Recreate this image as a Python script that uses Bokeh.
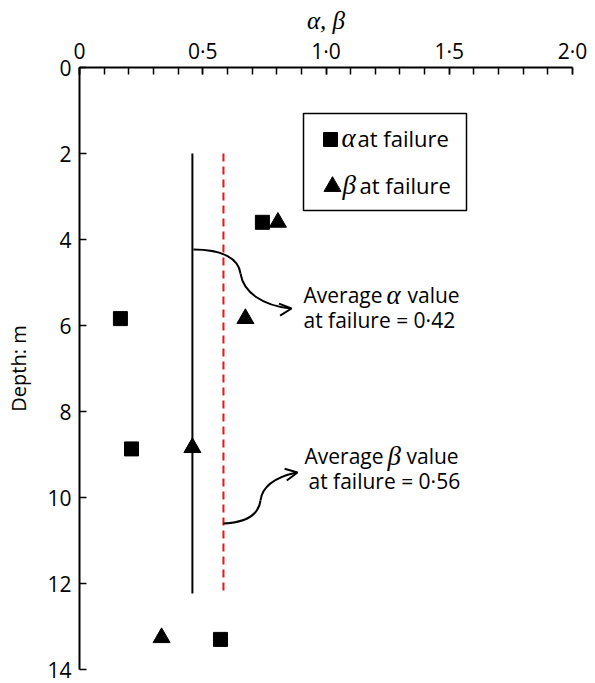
import math
from bokeh.plotting import figure
from bokeh.models import (Range1d, LinearAxis, FixedTicker, CustomJSTickFormatter,
                          Label, Arrow, OpenHead, BoxAnnotation)
from bokeh.embed import file_html
from bokeh.resources import INLINE

# ---------------- data ----------------
alpha_depth = [3.60, 5.84, 8.87, 13.30]
alpha_value = [0.742, 0.166, 0.211, 0.572]
beta_depth = [3.60, 5.84, 8.84, 13.26]
beta_value = [0.805, 0.673, 0.458, 0.333]

alpha_avg_line_x = [0.458, 0.458]
beta_avg_line_x = [0.584, 0.584]
avg_line_depth = [2.0, 12.23]

x_ticks = [0, 0.5, 1.0, 1.5, 2.0]
x_tick_labels = ["0", "0·5", "1·0", "1·5", "2·0"]
y_ticks = [0, 2, 4, 6, 8, 10, 12, 14]

# ---------------- geometry helpers (pixel -> data) for annotations ----------------
L, R, T, B = 79, 572, 67, 669
W, H = 595, 683
def dx(px):
    return (px - L) / (R - L) * 2.0
def dy(py):
    return (py - T) / (B - T) * 14.0

FONT = "Open Sans"
SERIF = "Liberation Serif"
TXT = "#000000"

p = figure(frame_width=R - L, frame_height=B - T, output_backend="svg",
           toolbar_location=None,
           x_range=Range1d(0, 2.0), y_range=Range1d(14, 0),
           x_axis_location=None, y_axis_location=None,
           min_border_left=L, min_border_right=W - R,
           min_border_top=T, min_border_bottom=H - B)
p.outline_line_color = None
p.xgrid.grid_line_color = None
p.ygrid.grid_line_color = None
p.background_fill_color = "white"
p.border_fill_color = "white"

# top axis
xa = LinearAxis(ticker=FixedTicker(ticks=x_ticks,
                                    minor_ticks=[i / 10 for i in range(21)]))
xa.formatter = CustomJSTickFormatter(args=dict(t=x_ticks, l=x_tick_labels), code="""
    for (let i = 0; i < t.length; i++) { if (Math.abs(t[i] - tick) < 1e-9) return l[i]; }
    return '';
""")
xa.major_tick_in = 7
xa.major_tick_out = 0
xa.minor_tick_in = 7
xa.minor_tick_out = 0
xa.axis_line_width = 2
xa.major_tick_line_width = 1.5
xa.minor_tick_line_width = 1.5
xa.major_label_text_font = FONT
xa.major_label_text_font_size = "21px"
xa.major_label_text_color = TXT
xa.major_label_standoff = 3
xa.axis_label = "α, β"
xa.axis_label_text_font = SERIF
xa.axis_label_text_font_style = "italic"
xa.axis_label_text_font_size = "25px"
xa.axis_label_text_color = TXT
xa.axis_label_standoff = 0
p.add_layout(xa, "above")

# left axis
ya = LinearAxis(ticker=FixedTicker(ticks=y_ticks, minor_ticks=[]))
ya.major_tick_in = 7
ya.major_tick_out = 0
ya.minor_tick_in = 0
ya.minor_tick_out = 0
ya.axis_line_width = 2
ya.major_tick_line_width = 1.5
ya.major_label_text_font = FONT
ya.major_label_text_font_size = "21px"
ya.major_label_text_color = TXT
ya.major_label_standoff = 8
ya.axis_label = "Depth: m"
ya.axis_label_text_font = FONT
ya.axis_label_text_font_style = "normal"
ya.axis_label_text_font_size = "20px"
ya.axis_label_text_color = TXT
ya.axis_label_standoff = 12
p.add_layout(ya, "left")

# average lines
p.line(alpha_avg_line_x, avg_line_depth, line_color="black", line_width=2)
p.line(beta_avg_line_x, avg_line_depth, line_color="#ee1111", line_width=2,
       line_dash="8 5")

# markers
p.scatter(alpha_value, alpha_depth, marker="square", size=14, fill_color="black",
          line_color="black")
p.scatter(beta_value, beta_depth, marker="triangle", size=17, fill_color="black",
          line_color="black")

# legend box (manual)
p.add_layout(BoxAnnotation(left=dx(303), right=dx(466), top=dy(113), bottom=dy(210),
                           fill_alpha=0.0, line_color="black", line_alpha=1.0,
                           line_width=1.5))
p.scatter(x=[dx(330)], y=[dy(139)], marker="square", size=14, color="black")
p.scatter(x=[dx(332)], y=[dy(186)], marker="triangle", size=17, color="black")

def mixed(x_px, y_px, parts, size="21px", gsize="27px"):
    # parts: list of (text, italic, x_offset_px); y_px is the visual baseline
    for txt, ital, off in parts:
        p.add_layout(Label(x=dx(x_px + off), y=dy(y_px - 9), text=txt,
                           text_font=SERIF if ital else FONT,
                           text_font_style="italic" if ital else "normal",
                           text_font_size=(gsize if ital else size),
                           text_baseline="alphabetic", text_align="left",
                           text_color=TXT))

mixed(341, 146, [("α", True, 0), ("at failure", False, 16)], size="22px")
mixed(342, 193, [("β", True, 0), ("at failure", False, 17)], size="22px")

# annotation texts
mixed(303, 303, [("Average", False, 0), ("α", True, 83), ("value", False, 104)])
mixed(303, 328, [("at failure = 0·42", False, 0)])
mixed(304, 464, [("Average", False, 0), ("β", True, 83), ("value", False, 102)])
mixed(308, 489, [("at failure = 0·56", False, 0)])

# curved arrows
def bez(x0, y0, cx0, cy0, cx1, cy1, x1, y1):
    p.bezier(x0=dx(x0), y0=dy(y0), cx0=dx(cx0), cy0=dy(cy0), cx1=dx(cx1), cy1=dy(cy1),
             x1=dx(x1), y1=dy(y1), line_color="black", line_width=2)

bez(193, 249, 222, 249, 238, 258, 240, 273)
bez(240, 273, 243, 292, 262, 305, 290, 308)
p.add_layout(Arrow(x_start=dx(280), y_start=dy(309), x_end=dx(291), y_end=dy(308),
                   line_alpha=0, end=OpenHead(size=12, line_width=2, line_color="black")))

bez(223, 523, 245, 522, 258, 515, 260, 500)
bez(260, 500, 262, 484, 278, 476, 296, 472)
p.add_layout(Arrow(x_start=dx(286), y_start=dy(474), x_end=dx(297), y_end=dy(472),
                   line_alpha=0, end=OpenHead(size=12, line_width=2, line_color="black")))

open("out.html", "w").write(file_html(p, INLINE))
